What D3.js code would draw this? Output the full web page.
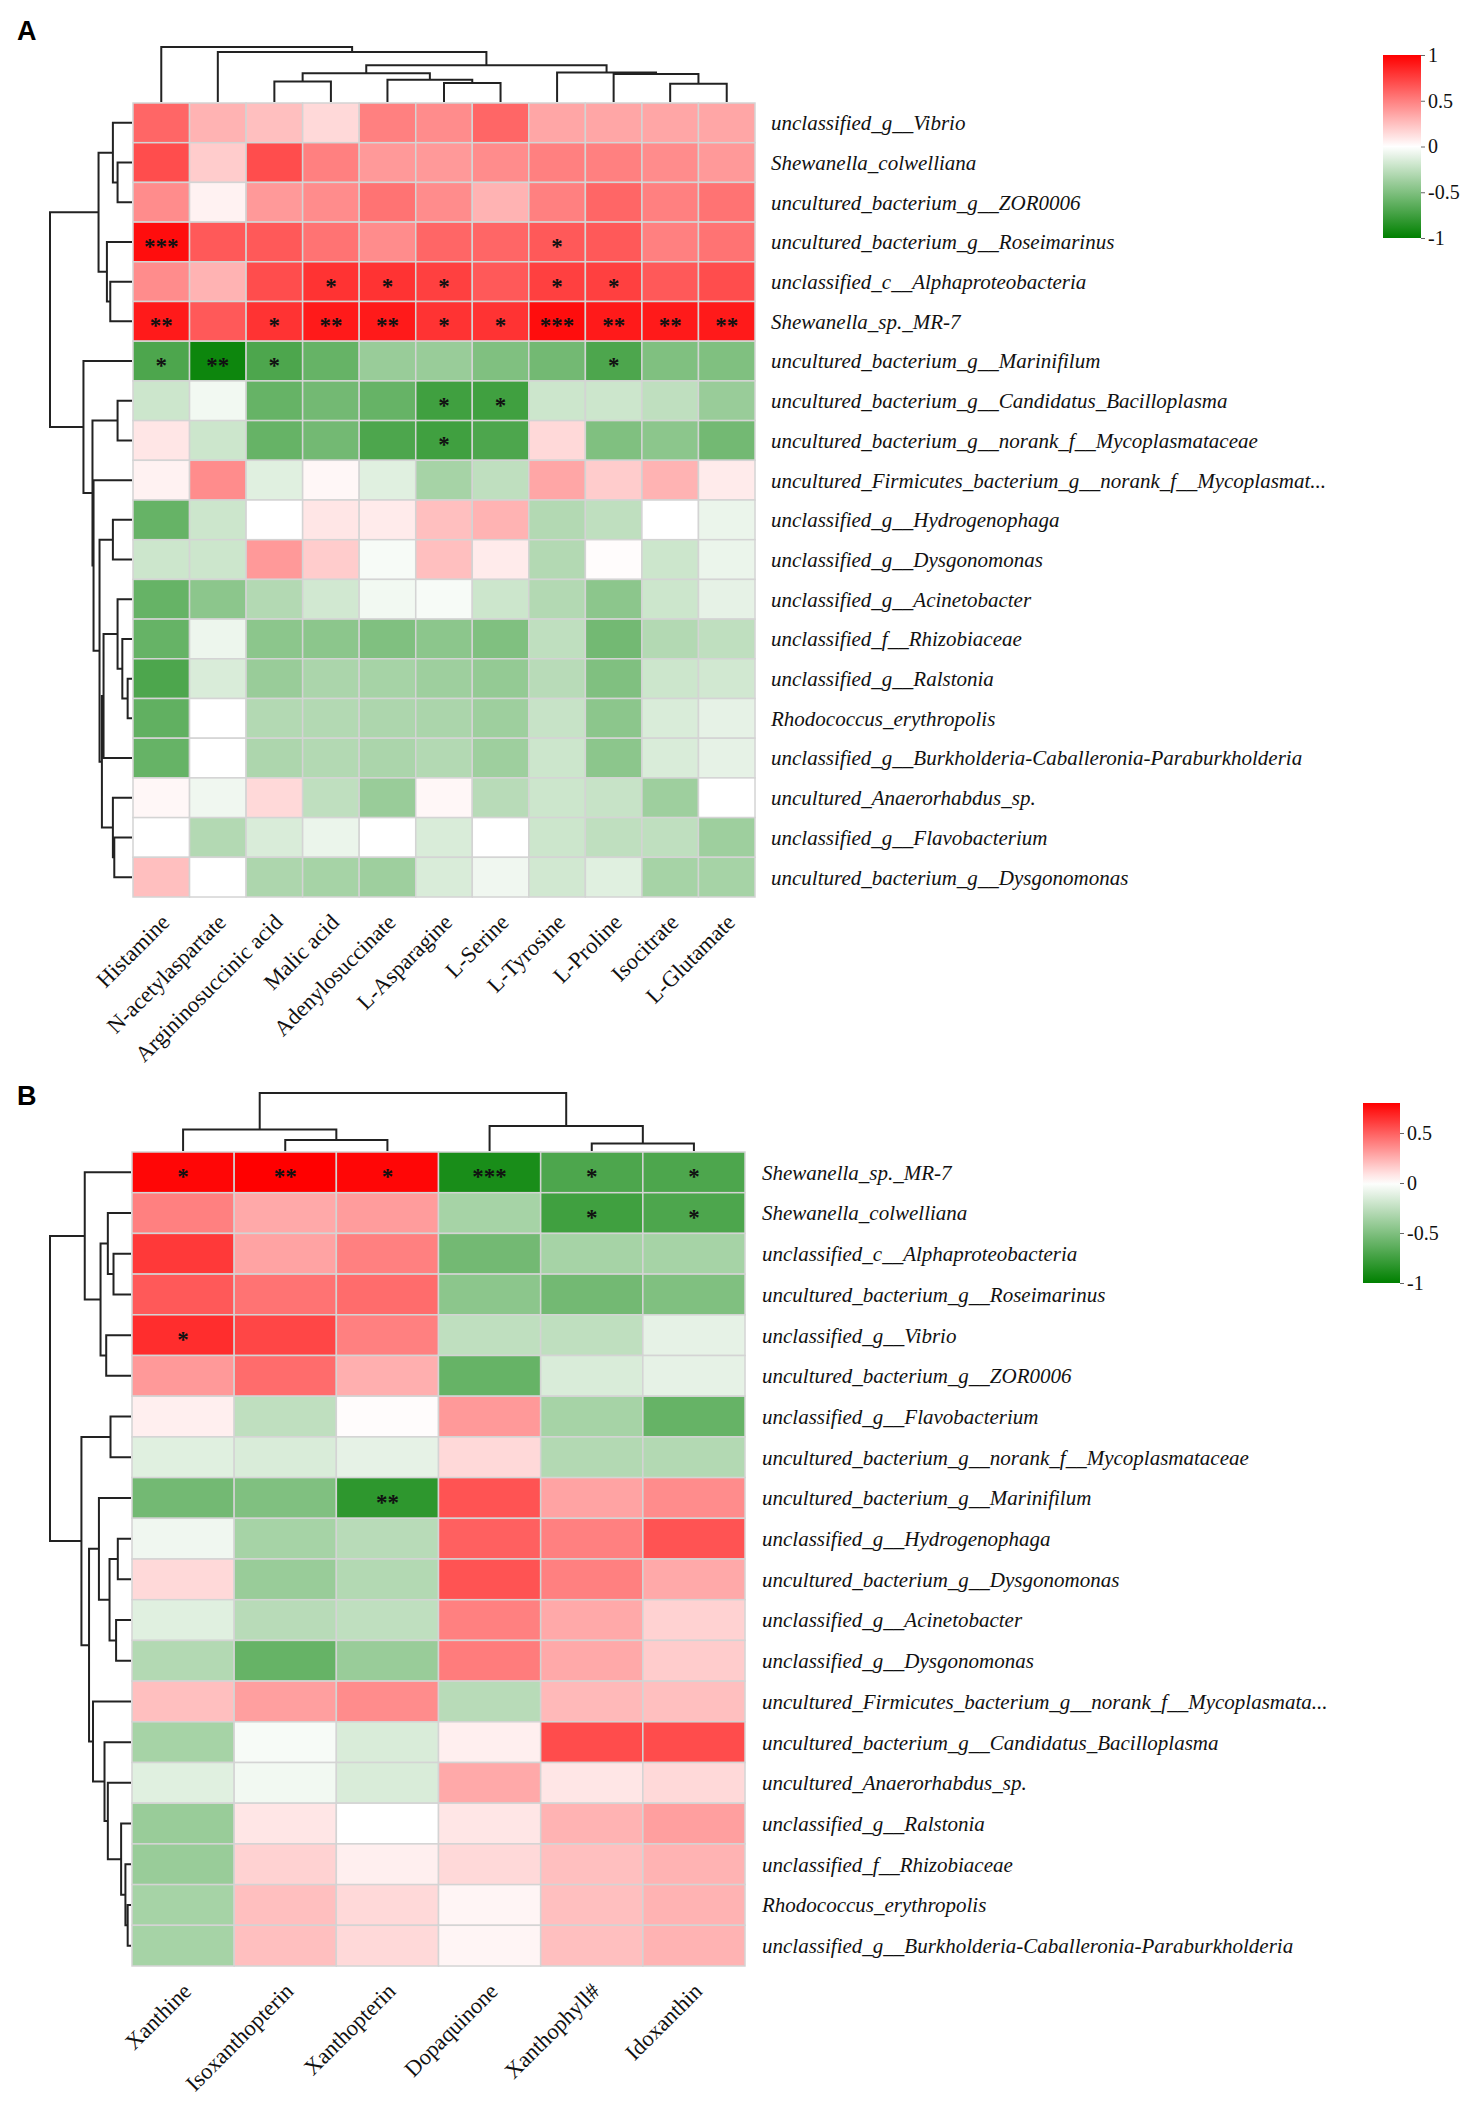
<!DOCTYPE html>
<html>
<head>
<meta charset="utf-8">
<script src="https://cdn.jsdelivr.net/npm/d3@7"></script>
<style>
body { margin: 0; background: #fff; }
svg { display: block; }
.row-label { font-family: "Liberation Serif", "Times New Roman", serif; font-style: italic; font-size: 21px; fill: #111; }
.col-label { font-family: "Liberation Serif", "Times New Roman", serif; font-size: 22.5px; fill: #111; }
.star { font-family: "Liberation Serif", serif; font-size: 23px; font-weight: bold; fill: #111; }
.panel-tag { font-family: "Liberation Sans", Arial, sans-serif; font-weight: bold; font-size: 27px; fill: #000; }
.tree { fill: none; stroke: #222; stroke-width: 2; }
.cell { stroke: #d4d4d4; stroke-width: 1.5; }
.cbar text { font-family: "Liberation Serif", "Times New Roman", serif; font-size: 20px; fill: #111; }
.cbar line { stroke: #666; }
</style>
</head>
<body>
<div id="chart"></div>
<script>
// ---------- panel A data ----------
var colsA = ['Histamine', 'N-acetylaspartate', 'Argininosuccinic acid', 'Malic acid', 'Adenylosuccinate',
    'L-Asparagine', 'L-Serine', 'L-Tyrosine', 'L-Proline', 'Isocitrate', 'L-Glutamate'];

var rowsA = [
    'unclassified_g__Vibrio',
    'Shewanella_colwelliana',
    'uncultured_bacterium_g__ZOR0006',
    'uncultured_bacterium_g__Roseimarinus',
    'unclassified_c__Alphaproteobacteria',
    'Shewanella_sp._MR-7',
    'uncultured_bacterium_g__Marinifilum',
    'uncultured_bacterium_g__Candidatus_Bacilloplasma',
    'uncultured_bacterium_g__norank_f__Mycoplasmataceae',
    'uncultured_Firmicutes_bacterium_g__norank_f__Mycoplasmat...',
    'unclassified_g__Hydrogenophaga',
    'unclassified_g__Dysgonomonas',
    'unclassified_g__Acinetobacter',
    'unclassified_f__Rhizobiaceae',
    'unclassified_g__Ralstonia',
    'Rhodococcus_erythropolis',
    'unclassified_g__Burkholderia-Caballeronia-Paraburkholderia',
    'uncultured_Anaerorhabdus_sp.',
    'unclassified_g__Flavobacterium',
    'uncultured_bacterium_g__Dysgonomonas'
];

// correlation values, one row per taxon, columns in colsA order
var valuesA = [
    [0.6, 0.3, 0.25, 0.15, 0.5, 0.45, 0.6, 0.35, 0.35, 0.35, 0.35],
    [0.7, 0.2, 0.7, 0.5, 0.4, 0.4, 0.45, 0.5, 0.5, 0.45, 0.4],
    [0.45, 0.05, 0.4, 0.45, 0.55, 0.45, 0.3, 0.5, 0.6, 0.5, 0.55],
    [0.95, 0.65, 0.65, 0.55, 0.45, 0.6, 0.6, 0.65, 0.65, 0.5, 0.55],
    [0.45, 0.3, 0.7, 0.8, 0.8, 0.75, 0.65, 0.75, 0.75, 0.65, 0.7],
    [0.9, 0.65, 0.8, 0.9, 0.9, 0.8, 0.8, 0.95, 0.9, 0.9, 0.9],
    [-0.7, -0.95, -0.7, -0.6, -0.4, -0.4, -0.5, -0.55, -0.7, -0.5, -0.5],
    [-0.2, -0.05, -0.6, -0.55, -0.6, -0.75, -0.75, -0.2, -0.2, -0.25, -0.4],
    [0.1, -0.2, -0.6, -0.55, -0.7, -0.75, -0.7, 0.15, -0.5, -0.45, -0.55],
    [0.05, 0.45, -0.12, 0.03, -0.12, -0.35, -0.25, 0.35, 0.2, 0.3, 0.08],
    [-0.6, -0.2, 0.0, 0.1, 0.08, 0.25, 0.3, -0.3, -0.25, 0.0, -0.08],
    [-0.2, -0.2, 0.4, 0.2, -0.03, 0.25, 0.08, -0.3, 0.01, -0.2, -0.08],
    [-0.6, -0.45, -0.3, -0.18, -0.05, -0.03, -0.2, -0.3, -0.45, -0.2, -0.1],
    [-0.6, -0.07, -0.45, -0.45, -0.5, -0.45, -0.5, -0.25, -0.55, -0.3, -0.25],
    [-0.7, -0.15, -0.4, -0.33, -0.35, -0.38, -0.42, -0.28, -0.5, -0.2, -0.18],
    [-0.62, 0.0, -0.3, -0.3, -0.32, -0.33, -0.38, -0.22, -0.45, -0.15, -0.1],
    [-0.6, 0.0, -0.32, -0.3, -0.33, -0.3, -0.38, -0.2, -0.45, -0.15, -0.1],
    [0.03, -0.06, 0.15, -0.25, -0.4, 0.03, -0.28, -0.2, -0.22, -0.38, 0.0],
    [0.0, -0.3, -0.15, -0.08, 0.0, -0.15, 0.0, -0.2, -0.25, -0.25, -0.38],
    [0.25, 0.0, -0.32, -0.35, -0.38, -0.15, -0.06, -0.18, -0.12, -0.35, -0.35]
];

// significance marks: [row, column, stars]
var sigA = [
    [3, 0, '***'], [3, 7, '*'],
    [4, 3, '*'], [4, 4, '*'], [4, 5, '*'], [4, 7, '*'], [4, 8, '*'],
    [5, 0, '**'], [5, 2, '*'], [5, 3, '**'], [5, 4, '**'], [5, 5, '*'], [5, 6, '*'],
    [5, 7, '***'], [5, 8, '**'], [5, 9, '**'], [5, 10, '**'],
    [6, 0, '*'], [6, 1, '**'], [6, 2, '*'], [6, 8, '*'],
    [7, 5, '*'], [7, 6, '*'],
    [8, 5, '*']
];

// clustering trees: [height, left, right], leaves are indices
var colTreeA = [1.0, 0, [0.91, 1, [0.67,
    [0.525, [0.375, 2, 3], [0.405, 4, [0.345, 5, 6]]],
    [0.535, 7, [0.51, 8, [0.33, 9, 10]]]]]];

var rowTreeA = [1.0,
    [0.408, [0.233, 0, [0.176, 1, 2]], [0.306, 3, [0.265, 4, 5]]],
    [0.592, 6, [0.482, [0.176, 7, 8], [0.469, 9, [0.396, [0.233, 10, 11],
        [0.367, [0.347, [0.176, 12, [0.118, 13, [0.053, 14, 15]]], 16], [0.233, 17, [0.216, 18, 19]]]]]]]];

var domainA = [-1, 1];
var ticksA = [1, 0.5, 0, -0.5, -1];
var tickLabelsA = ['1', '0.5', '0', '-0.5', '-1'];

// ---------- panel B data ----------
var colsB = ['Xanthine', 'Isoxanthopterin', 'Xanthopterin', 'Dopaquinone', 'Xanthophyll#', 'Idoxanthin'];

var rowsB = [
    'Shewanella_sp._MR-7',
    'Shewanella_colwelliana',
    'unclassified_c__Alphaproteobacteria',
    'uncultured_bacterium_g__Roseimarinus',
    'unclassified_g__Vibrio',
    'uncultured_bacterium_g__ZOR0006',
    'unclassified_g__Flavobacterium',
    'uncultured_bacterium_g__norank_f__Mycoplasmataceae',
    'uncultured_bacterium_g__Marinifilum',
    'unclassified_g__Hydrogenophaga',
    'uncultured_bacterium_g__Dysgonomonas',
    'unclassified_g__Acinetobacter',
    'unclassified_g__Dysgonomonas',
    'uncultured_Firmicutes_bacterium_g__norank_f__Mycoplasmata...',
    'uncultured_bacterium_g__Candidatus_Bacilloplasma',
    'uncultured_Anaerorhabdus_sp.',
    'unclassified_g__Ralstonia',
    'unclassified_f__Rhizobiaceae',
    'Rhodococcus_erythropolis',
    'unclassified_g__Burkholderia-Caballeronia-Paraburkholderia'
];

var valuesB = [
    [0.78, 0.8, 0.78, -0.9, -0.7, -0.7],
    [0.4, 0.27, 0.31, -0.35, -0.75, -0.7],
    [0.62, 0.29, 0.4, -0.55, -0.35, -0.35],
    [0.52, 0.44, 0.46, -0.45, -0.55, -0.5],
    [0.66, 0.58, 0.4, -0.25, -0.25, -0.1],
    [0.32, 0.46, 0.25, -0.6, -0.15, -0.1],
    [0.05, -0.25, 0.01, 0.32, -0.35, -0.6],
    [-0.12, -0.15, -0.1, 0.12, -0.3, -0.3],
    [-0.55, -0.5, -0.82, 0.54, 0.29, 0.36],
    [-0.06, -0.35, -0.28, 0.5, 0.4, 0.54],
    [0.12, -0.4, -0.3, 0.54, 0.4, 0.27],
    [-0.12, -0.28, -0.25, 0.4, 0.27, 0.14],
    [-0.3, -0.6, -0.4, 0.41, 0.27, 0.16],
    [0.2, 0.3, 0.36, -0.28, 0.22, 0.2],
    [-0.35, -0.03, -0.15, 0.05, 0.56, 0.56],
    [-0.12, -0.05, -0.15, 0.27, 0.08, 0.12],
    [-0.4, 0.08, 0.0, 0.08, 0.24, 0.3],
    [-0.4, 0.14, 0.05, 0.12, 0.2, 0.24],
    [-0.35, 0.2, 0.12, 0.03, 0.2, 0.24],
    [-0.35, 0.2, 0.12, 0.03, 0.2, 0.24]
];

var sigB = [
    [0, 0, '*'], [0, 1, '**'], [0, 2, '*'], [0, 3, '***'], [0, 4, '*'], [0, 5, '*'],
    [1, 4, '*'], [1, 5, '*'],
    [4, 0, '*'],
    [8, 2, '**']
];

var colTreeB = [1.0, [0.37, 0, [0.19, 1, 2]], [0.43, 3, [0.13, 4, 5]]];

var rowTreeB = [1.0,
    [0.571, 0, [0.376, [0.286, 1, [0.216, 2, 3]], [0.306, 4, 5]]],
    [0.612, [0.253, 6, 7], [0.518, [0.396, 8, [0.265, [0.163, 9, 10], [0.184, 11, 12]]],
        [0.469, 13, [0.327, 14, [0.286, 15, [0.122, 16, [0.069, 17, [0.041, 18, 19]]]]]]]]];

var domainB = [-1, 0.8];
var ticksB = [0.5, 0, -0.5, -1];
var tickLabelsB = ['0.5', '0', '-0.5', '-1'];

// ---------- drawing ----------
var width = 1476,
    height = 2102;

var svg = d3.select('#chart')
    .append('svg')
    .attr('width', width)
    .attr('height', height);

var defs = svg.append('defs');

function drawTree(g, tree, band, hScale, orient) {
    var root = d3.hierarchy(tree, function(d) {
        return Array.isArray(d) ? d.slice(1) : null;
    });
    root.eachAfter(function(n) {
        n.h = n.children ? n.data[0] : 0;
        n.p = n.children ? (n.children[0].p + n.children[1].p) / 2 : band(n.data) + band.bandwidth() / 2;
    });
    var path = d3.path();
    root.each(function(n) {
        if (!n.children) return;
        var a = n.children[0],
            b = n.children[1],
            h = hScale(n.h);
        if (orient === 'top') {
            path.moveTo(a.p, hScale(a.h));
            path.lineTo(a.p, h);
            path.lineTo(b.p, h);
            path.lineTo(b.p, hScale(b.h));
        } else {
            path.moveTo(hScale(a.h), a.p);
            path.lineTo(h, a.p);
            path.lineTo(h, b.p);
            path.lineTo(hScale(b.h), b.p);
        }
    });
    g.append('path')
        .attr('class', 'tree')
        .attr('d', path.toString());
}

function drawPanel(p) {
    var g = svg.append('g');

    var x = d3.scaleBand().domain(d3.range(p.cols.length)).range([p.x0, p.x1]);
    var y = d3.scaleBand().domain(d3.range(p.rows.length)).range([p.y0, p.y1]);
    var color = d3.scaleLinear()
        .domain([p.domain[0], 0, p.domain[1]])
        .range(['#008000', '#ffffff', '#ff0000'])
        .clamp(true);

    g.append('text')
        .attr('class', 'panel-tag')
        .attr('x', 17)
        .attr('y', p.tagY)
        .text(p.tag);

    // heatmap cells
    var cells = [];
    p.values.forEach(function(row, i) {
        row.forEach(function(v, j) {
            cells.push({ i: i, j: j, v: v });
        });
    });

    g.selectAll('.cell')
        .data(cells)
        .enter()
        .append('rect')
        .attr('class', 'cell')
        .attr('x', function(d) { return x(d.j); })
        .attr('y', function(d) { return y(d.i); })
        .attr('width', x.bandwidth())
        .attr('height', y.bandwidth())
        .attr('fill', function(d) { return color(d.v); });

    g.selectAll('.star')
        .data(p.sig)
        .enter()
        .append('text')
        .attr('class', 'star')
        .attr('text-anchor', 'middle')
        .attr('x', function(d) { return x(d[1]) + x.bandwidth() / 2; })
        .attr('y', function(d) { return y(d[0]) + y.bandwidth() / 2 + 12; })
        .text(function(d) { return d[2]; });

    // dendrograms
    drawTree(g, p.colTree, x, d3.scaleLinear().domain([0, 1]).range([p.y0 - 1, p.colTop]), 'top');
    drawTree(g, p.rowTree, y, d3.scaleLinear().domain([0, 1]).range([p.x0 - 1, 50]), 'left');

    // labels
    g.selectAll('.row-label')
        .data(p.rows)
        .enter()
        .append('text')
        .attr('class', 'row-label')
        .attr('x', p.labelX)
        .attr('y', function(d, i) { return y(i) + y.bandwidth() / 2; })
        .attr('dy', '0.35em')
        .text(function(d) { return d; });

    g.selectAll('.col-label')
        .data(p.cols)
        .enter()
        .append('text')
        .attr('class', 'col-label')
        .attr('text-anchor', 'end')
        .attr('dy', '0.35em')
        .attr('transform', function(d, j) {
            return 'translate(' + (x(j) + x.bandwidth() / 2 + 4) + ',' + (p.y1 + 21) + ') rotate(-45)';
        })
        .text(function(d) { return d; });

    // colour bar
    var gradId = 'grad' + p.tag;
    var grad = defs.append('linearGradient')
        .attr('id', gradId)
        .attr('x1', 0).attr('y1', 1)
        .attr('x2', 0).attr('y2', 0);
    grad.selectAll('stop')
        .data(d3.range(0, 1.0001, 0.05))
        .enter()
        .append('stop')
        .attr('offset', function(t) { return t; })
        .attr('stop-color', function(t) {
            return color(p.domain[0] + t * (p.domain[1] - p.domain[0]));
        });

    var cb = g.append('g').attr('class', 'cbar');
    cb.append('rect')
        .attr('x', p.cbX)
        .attr('y', p.cbY0)
        .attr('width', p.cbW)
        .attr('height', p.cbY1 - p.cbY0)
        .attr('fill', 'url(#' + gradId + ')');

    var cbScale = d3.scaleLinear().domain(p.domain).range([p.cbY1, p.cbY0]);
    var axis = cb.append('g')
        .attr('transform', 'translate(' + (p.cbX + p.cbW) + ',0)')
        .call(d3.axisRight(cbScale)
            .tickValues(p.ticks)
            .tickSize(4)
            .tickPadding(3)
            .tickFormat(function(d, i) { return p.tickLabels[i]; }));
    axis.select('.domain').remove();
    axis.selectAll('text').attr('font-family', null).attr('font-size', null);
}

drawPanel({
    tag: 'A', tagY: 40,
    cols: colsA, rows: rowsA, values: valuesA, sig: sigA,
    colTree: colTreeA, rowTree: rowTreeA,
    domain: domainA, ticks: ticksA, tickLabels: tickLabelsA,
    x0: 133, x1: 755, y0: 103, y1: 897, colTop: 47,
    labelX: 771,
    cbX: 1383, cbW: 38, cbY0: 55, cbY1: 238
});

drawPanel({
    tag: 'B', tagY: 1105,
    cols: colsB, rows: rowsB, values: valuesB, sig: sigB,
    colTree: colTreeB, rowTree: rowTreeB,
    domain: domainB, ticks: ticksB, tickLabels: tickLabelsB,
    x0: 132, x1: 745, y0: 1152, y1: 1966, colTop: 1093,
    labelX: 762,
    cbX: 1363, cbW: 37, cbY0: 1103, cbY1: 1283
});
</script>
</body>
</html>
